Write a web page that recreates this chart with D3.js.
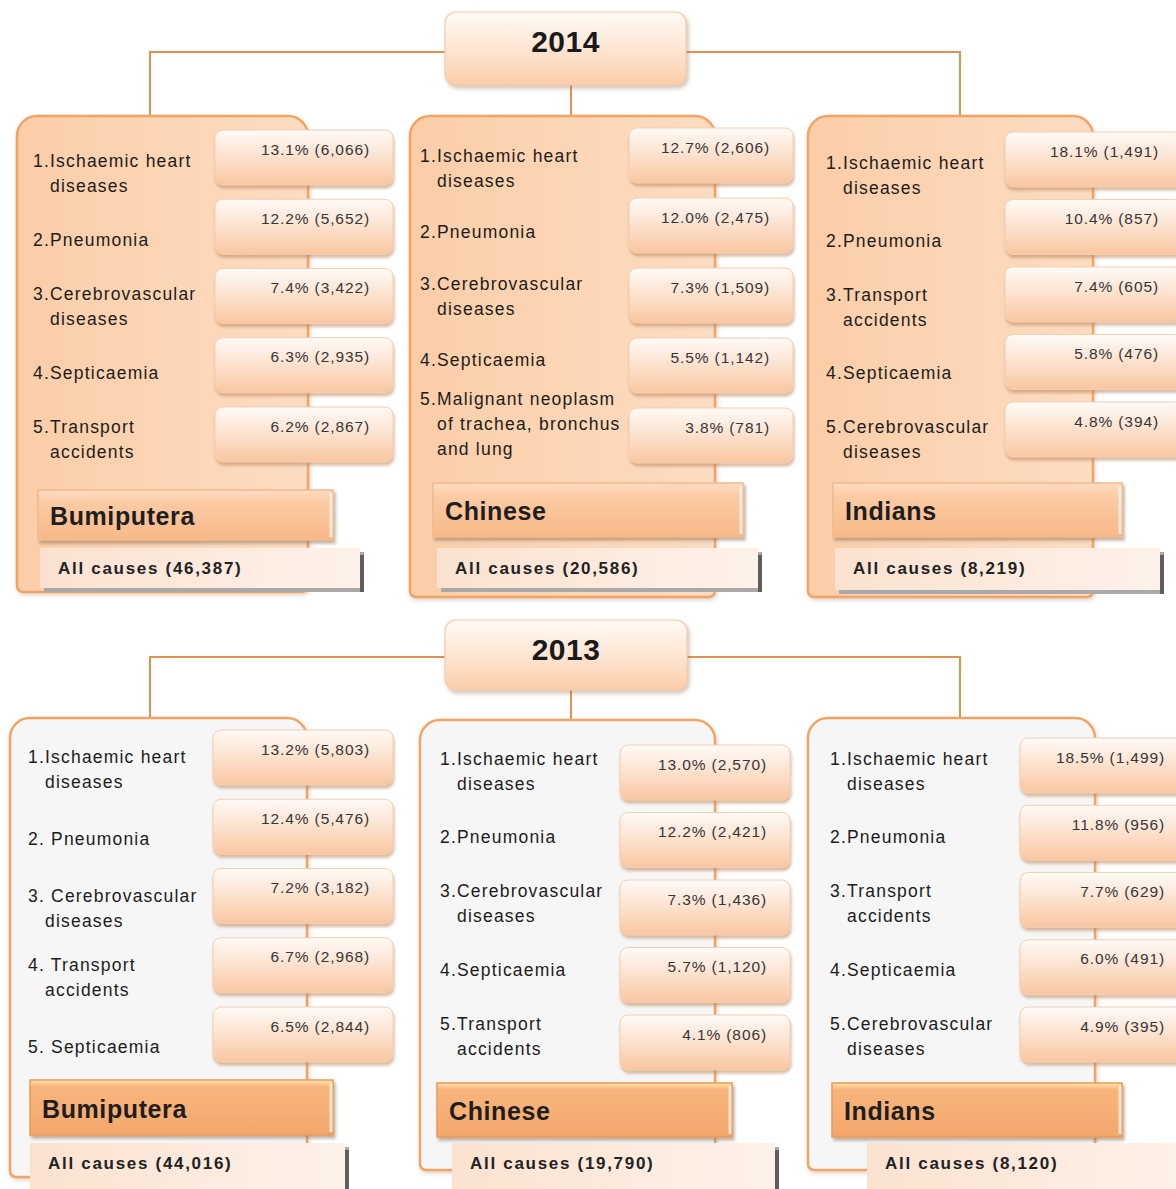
<!DOCTYPE html>
<html><head><meta charset="utf-8">
<script src="https://cdn.jsdelivr.net/npm/d3@7"></script>
<style>html,body{margin:0;padding:0;background:#fff;overflow:hidden}</style>
</head><body><svg id="c" width="1176" height="1189"></svg>
<script>
// ---------------- DATA ----------------
const years = ["2014", "2013"];
const groups = ["Bumiputera", "Chinese", "Indians"];

const causes2014 = [
  [["1.Ischaemic heart","diseases"],["2.Pneumonia"],["3.Cerebrovascular","diseases"],["4.Septicaemia"],["5.Transport","accidents"]],
  [["1.Ischaemic heart","diseases"],["2.Pneumonia"],["3.Cerebrovascular","diseases"],["4.Septicaemia"],["5.Malignant neoplasm","of trachea, bronchus","and lung"]],
  [["1.Ischaemic heart","diseases"],["2.Pneumonia"],["3.Transport","accidents"],["4.Septicaemia"],["5.Cerebrovascular","diseases"]]
];
const pct2014 = [[13.1,12.2,7.4,6.3,6.2],[12.7,12.0,7.3,5.5,3.8],[18.1,10.4,7.4,5.8,4.8]];
const deaths2014 = [[6066,5652,3422,2935,2867],[2606,2475,1509,1142,781],[1491,857,605,476,394]];
const total2014 = [46387,20586,8219];

const causes2013 = [
  [["1.Ischaemic heart","diseases"],["2. Pneumonia"],["3. Cerebrovascular","diseases"],["4. Transport","accidents"],["5. Septicaemia"]],
  [["1.Ischaemic heart","diseases"],["2.Pneumonia"],["3.Cerebrovascular","diseases"],["4.Septicaemia"],["5.Transport","accidents"]],
  [["1.Ischaemic heart","diseases"],["2.Pneumonia"],["3.Transport","accidents"],["4.Septicaemia"],["5.Cerebrovascular","diseases"]]
];
const pct2013 = [[13.2,12.4,7.2,6.7,6.5],[13.0,12.2,7.3,5.7,4.1],[18.5,11.8,7.7,6.0,4.9]];
const deaths2013 = [[5803,5476,3182,2968,2844],[2570,2421,1436,1120,806],[1499,956,629,491,395]];
const total2013 = [44016,19790,8120];

// ---------------- LAYOUT ----------------
const yearLayout = [
  {box:[445,12,686,85], lineY:52, leftX:150, rightX:960, centerX:571, panelTop:116, fill:"url(#panel2014)"},
  {box:[445,620,687,690], lineY:657, leftX:150, rightX:960, centerX:571, panelTop:719, fill:"#f6f6f6"}
];
const panelLayout = [
  [ // 2014
    {panel:[17,116,308,592], vx:[215,393], vTop:[130,407], lx:33, lc:[173,439], gbox:[38,490,333,540], tbox:[40,548,360,588]},
    {panel:[410,116,715,597], vx:[629,793], vTop:[128,408], lx:420, lc:[168,424], gbox:[433,483,743,537], tbox:[437,548,758,588]},
    {panel:[808,116,1093,597], vx:[1005,1182], vTop:[132,402], lx:826, lc:[175,439], gbox:[833,483,1122,537], tbox:[835,548,1160,590]}
  ],
  [ // 2013
    {panel:[10,718,307,1177], vx:[213,393], vTop:[730,1007], lx:28, lc:[769,1047], gbox:[30,1080,333,1135], tbox:[30,1143,345,1200]},
    {panel:[420,720,715,1170], vx:[620,790], vTop:[745,1015], lx:440, lc:[771,1036], gbox:[437,1083,732,1137], tbox:[452,1143,775,1200]},
    {panel:[808,718,1095,1170], vx:[1020,1188], vTop:[738,1007], lx:830, lc:[771,1036], gbox:[832,1083,1122,1137], tbox:[867,1143,1200,1200]}
  ]
];

const dataByYear = [
  {causes:causes2014, pct:pct2014, deaths:deaths2014, total:total2014},
  {causes:causes2013, pct:pct2013, deaths:deaths2013, total:total2013}
];

const fmtPct = d3.format(".1f"), fmtN = d3.format(",");
const FONT = "'Liberation Sans', Arial, sans-serif";

// ---------------- DRAW ----------------
const svg = d3.select("#c");
const defs = svg.append("defs");

function vgrad(id, stops, horiz) {
  const g = defs.append("linearGradient").attr("id", id)
    .attr("x1",0).attr("y1",0).attr("x2", horiz?1:0).attr("y2", horiz?0:1);
  stops.forEach(([o,c]) => g.append("stop").attr("offset",o).attr("stop-color",c));
}
vgrad("valGrad", [[0,"#fffaf6"],[0.35,"#fde9da"],[1,"#f9c6a0"]]);
vgrad("yearGrad", [[0,"#fffaf5"],[0.5,"#fde6d4"],[1,"#fbcda8"]]);
vgrad("panel2014", [[0,"#fbcda7"],[0.5,"#fcd5b5"],[1,"#fcdcc2"]], true);
vgrad("grp2014", [[0,"#fddcc3"],[0.25,"#fbcba4"],[1,"#f8b887"]]);
vgrad("grp2013", [[0,"#fde7a8"],[0.12,"#f8b47c"],[0.6,"#f6ae74"],[1,"#f2a66a"]]);
vgrad("totGrad", [[0,"#fbe2d0"],[1,"#fdf1e9"]], true);

function shadow(id, dx, dy, sd, col, op) {
  const f = defs.append("filter").attr("id", id)
    .attr("x","-10%").attr("y","-10%").attr("width","130%").attr("height","140%");
  f.append("feDropShadow").attr("dx",dx).attr("dy",dy).attr("stdDeviation",sd)
    .attr("flood-color",col).attr("flood-opacity",op);
}
shadow("shVal", 1, 3, 1.6, "#b9835a", 0.55);
shadow("shYear", 2, 3, 2, "#a07a5a", 0.45);
shadow("shPanel", 1, 2, 2, "#a08060", 0.35);
shadow("shGrp", 2, 3, 1.5, "#8a6a50", 0.5);

function panelPath(x0,y0,x1,y1,rt,rb){
  return `M${x0},${y0+rt} A${rt},${rt} 0 0 1 ${x0+rt},${y0} H${x1-rt} A${rt},${rt} 0 0 1 ${x1},${y0+rt} V${y1-rb} A${rb},${rb} 0 0 1 ${x1-rb},${y1} H${x0+rb} A${rb},${rb} 0 0 1 ${x0},${y1-rb} Z`;
}

years.forEach((yr, yi) => {
  const yl = yearLayout[yi];
  const d = dataByYear[yi];
  const gY = svg.append("g");
  const lineCol = "#e0934f";

  // connectors
  gY.append("path")
    .attr("d", `M${yl.leftX},${yl.panelTop} V${yl.lineY} H${yl.box[0]} M${yl.box[2]},${yl.lineY} H${yl.rightX} V${yl.panelTop} M${yl.centerX},${yl.box[3]} V${yl.panelTop}`)
    .attr("fill","none").attr("stroke",lineCol).attr("stroke-width",2);

  groups.forEach((grp, gi) => {
    const L = panelLayout[yi][gi];
    const g = gY.append("g");
    const [px0,py0,px1,py1] = L.panel;
    g.append("path").attr("d", panelPath(px0,py0,px1,py1,20,6))
      .attr("fill", yl.fill).attr("stroke","#f0a566").attr("stroke-width",2.5)
      .attr("filter","url(#shPanel)");

    const rowY = d3.scaleLinear().domain([0,4]).range(L.vTop);
    const labY = d3.scaleLinear().domain([0,4]).range(L.lc);
    const boxH = 55, lineH = 25;

    // value boxes
    const rows = d3.range(5).map(i => ({i, label:d.causes[gi][i], pct:d.pct[gi][i], n:d.deaths[gi][i]}));
    g.selectAll("rect.val").data(rows).join("rect").attr("class","val")
      .attr("x", L.vx[0]).attr("y", r => rowY(r.i))
      .attr("width", L.vx[1]-L.vx[0]).attr("height", boxH)
      .attr("rx",8).attr("ry",8)
      .attr("fill","url(#valGrad)").attr("stroke","#f4cfb2").attr("stroke-width",1)
      .attr("filter","url(#shVal)");
    g.selectAll("text.val").data(rows).join("text").attr("class","val")
      .attr("x", L.vx[1]-23).attr("y", r => rowY(r.i)+19)
      .attr("text-anchor","end").attr("dominant-baseline","central")
      .attr("font-family",FONT).attr("font-size",15.5).attr("letter-spacing",0.9)
      .attr("fill","#363636")
      .text(r => `${fmtPct(r.pct)}% (${fmtN(r.n)})`);

    // labels
    const lab = g.selectAll("text.lab").data(rows).join("text").attr("class","lab")
      .attr("font-family",FONT).attr("font-size",17.5).attr("letter-spacing",1.2)
      .attr("fill","#1c1c1c").attr("dominant-baseline","central");
    lab.each(function(r){
      const t = d3.select(this);
      const n = r.label.length;
      const y0 = labY(r.i) - (n-1)*lineH/2;
      r.label.forEach((s, k) => {
        t.append("tspan").attr("x", L.lx + (k>0?17:0)).attr("y", y0 + k*lineH).text(s);
      });
    });

    // group box
    const [gx0,gy0,gx1,gy1] = L.gbox;
    g.append("rect").attr("x",gx0).attr("y",gy0).attr("width",gx1-gx0).attr("height",gy1-gy0)
      .attr("fill", yi===0 ? "url(#grp2014)" : "url(#grp2013)")
      .attr("stroke", yi===0 ? "#f2b98e" : "#e99a5c").attr("stroke-width",1.5)
      .attr("filter","url(#shGrp)");
    g.append("line").attr("x1",gx1-2).attr("x2",gx1-2).attr("y1",gy0+3).attr("y2",gy1-3)
      .attr("stroke","#fff3e8").attr("stroke-width",3).attr("opacity",0.8);
    g.append("text").attr("x",gx0+12).attr("y",(gy0+gy1)/2+1)
      .attr("dominant-baseline","central")
      .attr("font-family",FONT).attr("font-weight","bold").attr("font-size",25).attr("letter-spacing",0.6)
      .attr("fill","#1e1e1e").text(grp);

    // total box
    const [tx0,ty0,tx1,ty1] = L.tbox;
    g.append("rect").attr("x",tx0+4).attr("y",ty0+4).attr("width",tx1-tx0).attr("height",ty1-ty0)
      .attr("fill","#a9a9a9");
    g.append("rect").attr("x",tx1).attr("y",ty0+7).attr("width",4).attr("height",ty1-ty0-3)
      .attr("fill","#5e5e5e");
    g.append("rect").attr("x",tx0).attr("y",ty0).attr("width",tx1-tx0).attr("height",ty1-ty0)
      .attr("fill","url(#totGrad)");
    g.append("text").attr("x",tx0+18).attr("y",ty0+20)
      .attr("dominant-baseline","central")
      .attr("font-family",FONT).attr("font-weight","bold").attr("font-size",17).attr("letter-spacing",1.7)
      .attr("fill","#222").text(`All causes (${fmtN(d.total[gi])})`);
  });

  // year box
  const [bx0,by0,bx1,by1] = yl.box;
  gY.append("rect").attr("x",bx0).attr("y",by0).attr("width",bx1-bx0).attr("height",by1-by0)
    .attr("rx",11).attr("ry",11)
    .attr("fill","url(#yearGrad)").attr("stroke","#f3cdb0").attr("stroke-width",1.2)
    .attr("filter","url(#shYear)");
  gY.append("text").attr("x",(bx0+bx1)/2).attr("y",by0+29)
    .attr("text-anchor","middle").attr("dominant-baseline","central")
    .attr("font-family",FONT).attr("font-weight","bold").attr("font-size",30).attr("letter-spacing",0.5)
    .attr("fill","#1a1a1a").text(yr);
});
</script></body></html>
